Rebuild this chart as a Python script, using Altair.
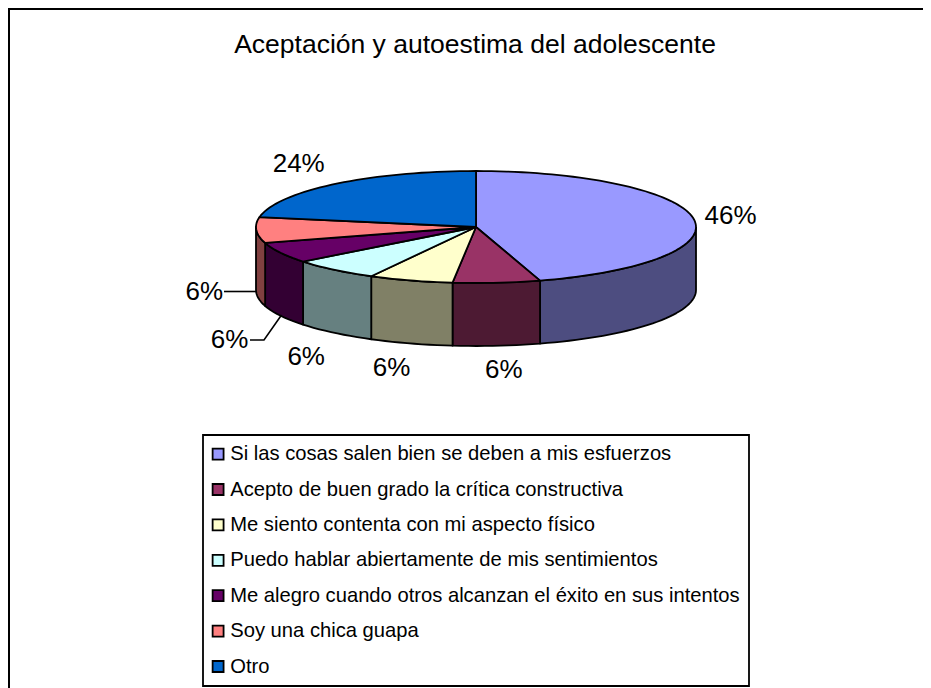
import math
import altair as alt
import pandas as pd

TITLE = "Aceptación y autoestima del adolescente"
categories = [
    "Si las cosas salen bien se deben a mis esfuerzos",
    "Acepto de buen grado la crítica constructiva",
    "Me siento contenta con mi aspecto físico",
    "Puedo hablar abiertamente de mis sentimientos",
    "Me alegro cuando otros alcanzan el éxito en sus intentos",
    "Soy una chica guapa",
    "Otro",
]
value_labels = ["46%", "6%", "6%", "6%", "6%", "6%", "24%"]
# slice sizes as they appear on the tilted disc, in percent of the turn
shares = [45.3, 6.4, 6.2, 6.5, 6.0, 7.4, 22.2]
top_colors = ["#9999FF", "#993366", "#FFFFCC", "#CCFFFF", "#660066", "#FF8080", "#0066CC"]
wall_colors = ["#4D4D80", "#4D1A33", "#808066", "#668080", "#330033", "#804040", "#003366"]

# layout (plot pixels; the plot starts 8px into the page)
W, H = 915, 680
CX, CY, RX, RY, DEPTH = 468, 219, 220, 56, 63
FONT = "Liberation Sans"
label_offsets = [(37, -3), (7, 87.5), (-19, 87.5), (-28, 87.5), (-51, 87.5), (-52, 62), (-36, -20)]
leaders = [[(216, 283.5), (248, 283.5)], [(242, 332), (256, 332), (273.5, 307)]]


def pt(angle, drop=0.0):
    a = math.radians(angle)
    return CX + RX * math.sin(a), CY - RY * math.cos(a) + drop


def arc_points(a0, a1, step=2.0):
    n = max(1, int(abs(a1 - a0) / step))
    return [a0 + (a1 - a0) * i / n for i in range(n + 1)]


bounds = [0.0]
for s in shares:
    bounds.append(bounds[-1] + s * 3.6)
bounds[-1] = 360.0

wall_rows, top_rows, label_rows = [], [], []
for i, cat in enumerate(categories):
    a0, a1 = bounds[i], bounds[i + 1]
    lo, hi = max(a0, 90), min(a1, 270)
    if lo < hi:
        pts = [pt(a) for a in arc_points(lo, hi)]
        pts += [pt(a, DEPTH) for a in arc_points(hi, lo)]
        pts.append(pts[0])
        for k, (x, y) in enumerate(pts):
            wall_rows.append({"cat": cat, "x": x, "y": y, "k": k})
    pts = [(CX, CY)] + [pt(a) for a in arc_points(a0, a1)] + [(CX, CY)]
    for k, (x, y) in enumerate(pts):
        top_rows.append({"cat": cat, "x": x, "y": y, "k": k})
    mx, my = pt((a0 + a1) / 2)
    dx, dy = label_offsets[i]
    label_rows.append({"x": mx + dx, "y": my + dy, "t": value_labels[i]})

x_s = alt.Scale(domain=[0, W], range=[0, W], nice=False, zero=False)
y_s = alt.Scale(domain=[0, H], range=[0, H], nice=False, zero=False)
X = alt.X("x:Q", scale=x_s, axis=None)
Y = alt.Y("y:Q", scale=y_s, axis=None)
ORDER = alt.Order("k:Q")

color_scale = alt.Scale(domain=categories, range=top_colors)
wall_scale = alt.Scale(domain=categories, range=wall_colors)

walls = alt.Chart(pd.DataFrame(wall_rows)).mark_line(
    stroke="black", strokeWidth=1.8, strokeJoin="round"
).encode(
    x=X, y=Y, order=ORDER,
    fill=alt.Fill("cat:N", scale=wall_scale, legend=None),
)
tops = alt.Chart(pd.DataFrame(top_rows)).mark_line(
    stroke="black", strokeWidth=1.8, strokeJoin="round"
).encode(
    x=X, y=Y, order=ORDER,
    fill=alt.Fill(
        "cat:N", scale=color_scale, sort=categories,
        legend=alt.Legend(
            title=None, orient="none", legendX=195, legendY=427,
            fillColor="white", strokeColor="black",
            symbolType="square", symbolSize=120, symbolStrokeColor="black",
            symbolStrokeWidth=1.8, symbolOpacity=1, symbolOffset=-4,
            labelFont=FONT, labelFontSize=20.2, labelColor="black", labelLimit=700,
            rowPadding=14.4, padding=9, labelOffset=2,
        ),
    ),
)

labels = alt.Chart(pd.DataFrame(label_rows)).mark_text(
    font=FONT, fontSize=26, color="black", align="center", baseline="middle"
).encode(x=X, y=Y, text="t:N")

title_mark = alt.Chart(pd.DataFrame([{"x": 467, "y": 44.7, "t": TITLE}])).mark_text(
    font=FONT, fontSize=26.5, color="black", align="center", baseline="alphabetic"
).encode(x=X, y=Y, text="t:N")

lead_rows = [
    {"g": i, "k": k, "x": x, "y": y}
    for i, line in enumerate(leaders)
    for k, (x, y) in enumerate(line)
]
lead = alt.Chart(pd.DataFrame(lead_rows)).mark_line(
    color="black", strokeWidth=1.6
).encode(x=X, y=Y, order=ORDER, detail="g:N")

frame_rows = [
    {"g": 0, "k": 0, "x": 1, "y": H},
    {"g": 0, "k": 1, "x": 1, "y": 1},
    {"g": 0, "k": 2, "x": W, "y": 1},
]
frame = alt.Chart(pd.DataFrame(frame_rows)).mark_line(
    color="black", strokeWidth=2, clip=False
).encode(x=X, y=Y, order=ORDER)

chart = (
    alt.layer(frame, title_mark, walls, tops, lead, labels)
    .resolve_scale(fill="independent")
    .properties(
        width=W, height=H,
        padding=0,
        autosize=alt.AutoSizeParams(type="none"),
    )
    .configure_view(stroke=None)
    .configure_legend(strokeWidth=1.8)
)
chart.save("out.html", embed_options={"renderer": "svg", "actions": False})
